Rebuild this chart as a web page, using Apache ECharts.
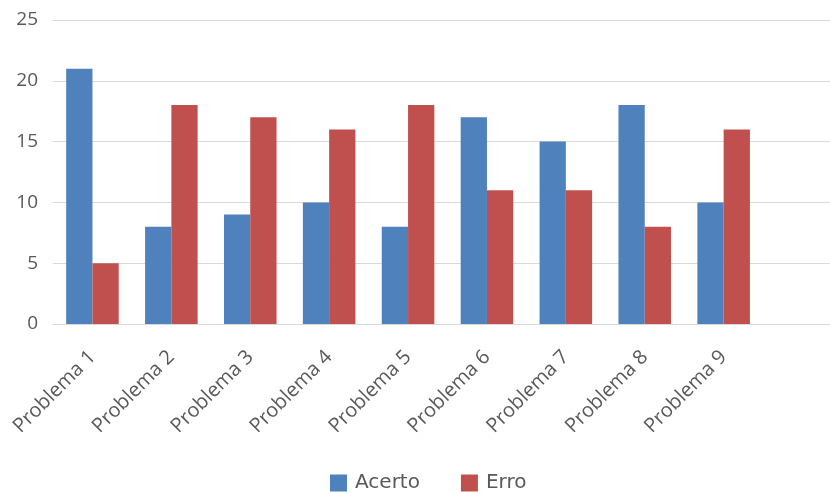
<!DOCTYPE html>
<html><head><meta charset="utf-8">
<script src="https://cdn.jsdelivr.net/npm/echarts@6/dist/echarts.min.js"></script>
<style>html,body{margin:0;padding:0;background:#fff}#c{width:830px;height:493px}</style>
</head><body><div id="c"></div>
<script>
var categories = ['Problema 1','Problema 2','Problema 3','Problema 4','Problema 5','Problema 6','Problema 7','Problema 8','Problema 9'];
var acerto = [21, 8, 9, 10, 8, 17, 15, 18, 10];
var erro = [5, 18, 17, 16, 18, 11, 11, 8, 16];
var seriesNames = ['Acerto', 'Erro'];
var yTicks = [0, 5, 10, 15, 20, 25];

var chart = echarts.init(document.getElementById('c'));
chart.setOption({
  animation: false,
  grid: { left: 53, top: 20, width: 789, height: 304, containLabel: false, outerBoundsMode: 'none' },
  legend: {
    top: 473, left: 330, padding: 0, itemWidth: 17, itemHeight: 17, itemGap: 41,
    icon: 'rect',
    textStyle: { fontFamily: 'DejaVu Sans', fontSize: 20, color: '#595959', padding: [0, 0, 0, 3] },
    data: seriesNames
  },
  xAxis: {
    type: 'category',
    data: categories.concat(['']),
    axisLine: { lineStyle: { color: '#D9D9D9', width: 1 } },
    axisTick: { show: false },
    axisLabel: { rotate: 45, fontFamily: 'Open Sans', fontSize: 20, color: '#595959', interval: 0, margin: 30 }
  },
  yAxis: {
    type: 'value', min: yTicks[0], max: yTicks[yTicks.length - 1], interval: 5,
    axisLine: { show: false }, axisTick: { show: false },
    axisLabel: { fontFamily: 'Open Sans', fontSize: 19, color: '#595959', margin: 15 },
    splitLine: { lineStyle: { color: '#D9D9D9', width: 1 } }
  },
  series: [
    { name: seriesNames[0], type: 'bar', data: acerto, barWidth: '33.3%', barGap: '0%',
      itemStyle: { color: '#4F81BD' } },
    { name: seriesNames[1], type: 'bar', data: erro, barWidth: '33.3%', barGap: '0%',
      itemStyle: { color: '#C0504D' } }
  ]
});
</script></body></html>
